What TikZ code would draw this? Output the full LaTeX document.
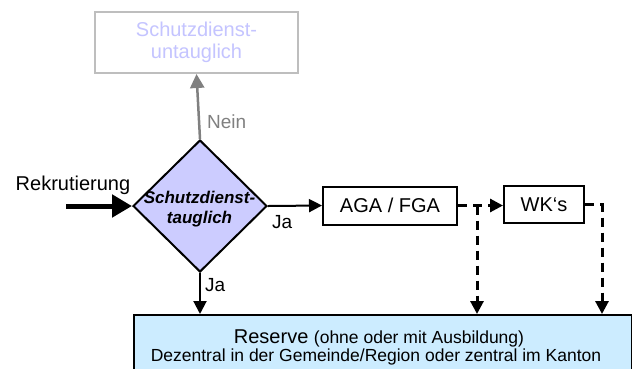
\documentclass[tikz,border=0pt]{standalone}
\usepackage{fontspec}
\setmainfont{Liberation Sans}
\usetikzlibrary{arrows.meta,shapes.geometric}
\definecolor{lavender}{RGB}{204,204,255}
\definecolor{palelav}{RGB}{196,196,255}
\definecolor{resblue}{RGB}{204,236,255}
\definecolor{midgray}{RGB}{128,128,128}
\definecolor{lightgray}{RGB}{190,190,190}
\tikzset{
  box/.style={draw=black, line width=2pt, fill=white, inner sep=0pt, align=center,
              font=\fontsize{20}{22}\selectfont},
  conn/.style={line width=2pt, -{Triangle[length=13pt,width=13pt]}},
  dconn/.style={line width=3pt, dash pattern=on 9pt off 6pt,
                -{Triangle[length=13pt,width=13pt]}},
  lbl/.style={font=\fontsize{19}{21}\selectfont, inner sep=0pt},
}
\begin{document}
\begin{tikzpicture}[x=1pt,y=-1pt]
\clip (0,0) rectangle (632,368);
\fill[white] (0,0) rectangle (632,368);

% nodes
\node[box, draw=lightgray, text=palelav, minimum width=203pt, minimum height=61pt,
      font=\fontsize{20}{22}\selectfont] (unfit) at (196.5,42.5)
      {Schutzdienst-\\untauglich};
\node[diamond, draw=black, line width=2pt, fill=lavender, inner sep=0pt,
      minimum width=134pt, minimum height=132pt] (dec) at (200,206) {};
\node[align=center, font=\fontsize{17}{20}\selectfont\bfseries\itshape] (dectext)
      at (199.5,209) {Schutzdienst-\\tauglich};
\node[box, minimum width=134pt, minimum height=38pt] (aga) at (390,205.5) {AGA / FGA};
\node[box, minimum width=80pt, minimum height=37pt] (wk) at (544,204.5) {WK‘s};
\node[box, fill=resblue, minimum width=498pt, minimum height=64pt, anchor=north west]
      (res) at (133,314) {};
\node[font=\fontsize{20}{22}\selectfont, inner sep=0pt] (resA) at (379,338)
      {Reserve {\fontsize{17.5}{20}\selectfont (ohne oder mit Ausbildung)}};
\node[font=\fontsize{17.5}{20}\selectfont, inner sep=0pt] (resB) at (376,357)
      {Dezentral in der Gemeinde/Region oder zentral im Kanton};

% labels
\node[lbl, font=\fontsize{20}{22}\selectfont] (rekr) at (73,185) {Rekrutierung};
\node[lbl, text=midgray, anchor=west] (nein) at (207,122) {Nein};
\node[lbl, anchor=west] (jaR) at (272,222) {Ja};
\node[lbl, anchor=west] (jaD) at (205,285) {Ja};

% free end points and junctions
\coordinate (rin) at (66,206);
\coordinate (j1) at (477,205.5);
\coordinate (j2) at (602,204.5);

% connectors
\draw[line width=5pt, -{Triangle[length=20pt,width=22pt]}] (rin) -- (dec.west);
\draw[draw=midgray, line width=2.5pt,
      -{Triangle[length=14pt,width=14pt,fill=midgray]}] (dec.north) -- (unfit.south);
\draw[conn] (dec.east) -- (aga.west);
\draw[conn] (dec.south) -- (dec.south |- res.north);
\draw[dconn] (aga.east) -- (aga.east -| wk.west);
\draw[dconn] (j1) -- (j1 |- res.north);
\draw[dconn] (wk.east) -- (j2) -- (j2 |- res.north);
\end{tikzpicture}
\end{document}
